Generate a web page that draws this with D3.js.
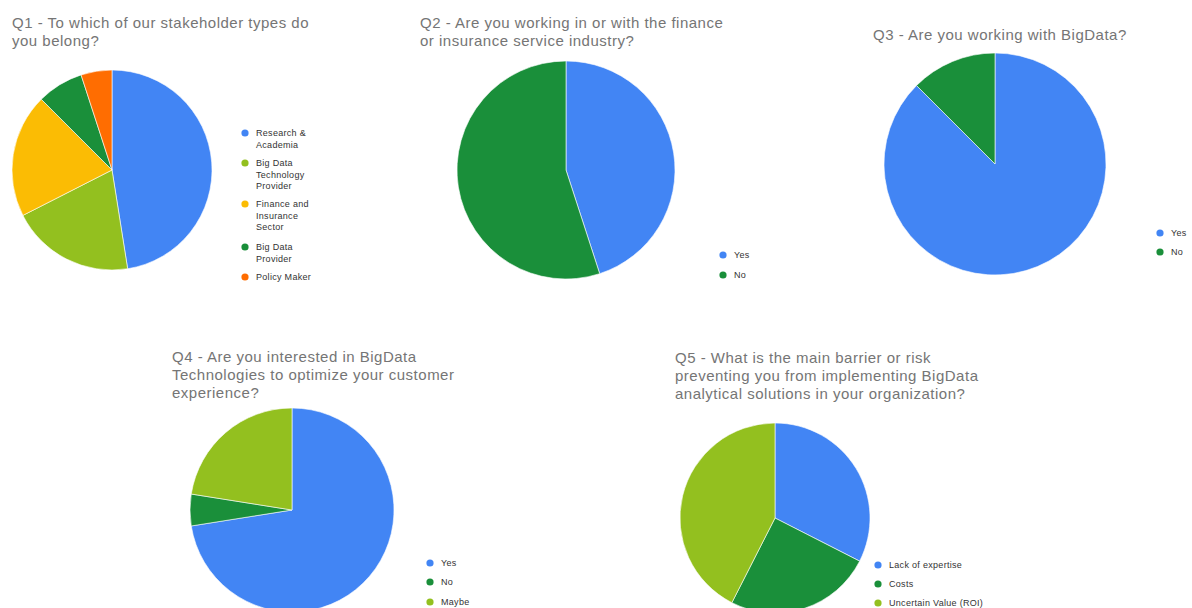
<!DOCTYPE html>
<html>
<head>
<meta charset="utf-8">
<script src="https://cdn.jsdelivr.net/npm/d3@7"></script>
<style>
  body{margin:0;background:#fff;}
  svg{display:block;font-family:Arial,"Liberation Sans",sans-serif;}
  .title{fill:#757575;font-size:15px;letter-spacing:0.5px;}
  .legend text{fill:#333;font-size:9px;letter-spacing:0.3px;}
</style>
</head>
<body>
<div class="charts"></div>
<script>
// survey answers (counts)
const q1Labels = [['Research &','Academia'],['Big Data','Technology','Provider'],['Finance and','Insurance','Sector'],['Big Data','Provider'],['Policy Maker']];
const q1Values = [19, 8, 8, 3, 2];
const q1Colors = ['#4285f4','#93c01f','#fbbc04','#1a8f3a','#ff6d01'];

const q2Labels = [['Yes'],['No']];
const q2Values = [18, 22];
const q2Colors = ['#4285f4','#1a8f3a'];

const q3Labels = [['Yes'],['No']];
const q3Values = [35, 5];
const q3Colors = ['#4285f4','#1a8f3a'];

const q4Labels = [['Yes'],['No'],['Maybe']];
const q4Values = [29, 2, 9];
const q4Colors = ['#4285f4','#1a8f3a','#93c01f'];

const q5Labels = [['Lack of expertise'],['Costs'],['Uncertain Value (ROI)']];
const q5Values = [13, 10, 17];
const q5Colors = ['#4285f4','#1a8f3a','#93c01f'];

const charts = [
  {title:['Q1 - To which of our stakeholder types do','you belong?'], tx:12, ty:28,
   labels:q1Labels, values:q1Values, colors:q1Colors, cx:112, cy:170, r:100,
   lx:245, ly:[133,163,204,247,277]},
  {title:['Q2 - Are you working in or with the finance','or insurance service industry?'], tx:420, ty:28,
   labels:q2Labels, values:q2Values, colors:q2Colors, cx:566, cy:170, r:109,
   lx:723, ly:[255,275]},
  {title:['Q3 - Are you working with BigData?'], tx:873, ty:40,
   labels:q3Labels, values:q3Values, colors:q3Colors, cx:995, cy:164, r:111,
   lx:1160, ly:[233,252]},
  {title:['Q4 - Are you interested in BigData','Technologies to optimize your customer','experience?'], tx:172, ty:362,
   labels:q4Labels, values:q4Values, colors:q4Colors, cx:292, cy:510, r:102,
   lx:430, ly:[563,582,602]},
  {title:['Q5 - What is the main barrier or risk','preventing you from implementing BigData','analytical solutions in your organization?'], tx:675, ty:363,
   labels:q5Labels, values:q5Values, colors:q5Colors, cx:775, cy:518, r:95,
   lx:878, ly:[565,584,603]}
];

const width = 1192, height = 608;
const svg = d3.select('.charts').append('svg').attr('width',width).attr('height',height);

charts.forEach(c=>{
  const g = svg.append('g');

  // title
  const t = g.append('text').attr('class','title');
  c.title.forEach((line,i)=>{
    t.append('tspan').attr('x',c.tx).attr('y',c.ty+i*18).text(line);
  });

  // pie
  const pie = d3.pie().sort(null).value(d=>d);
  const arc = d3.arc().innerRadius(0).outerRadius(c.r);
  const color = d3.scaleOrdinal().domain(d3.range(c.values.length)).range(c.colors);
  g.append('g').attr('transform',`translate(${c.cx},${c.cy})`)
    .selectAll('path').data(pie(c.values)).join('path')
    .attr('d',arc).attr('fill',(d,i)=>color(i))
    .attr('stroke','#fff').attr('stroke-width',0.6);

  // legend
  const leg = g.append('g').attr('class','legend');
  c.labels.forEach((lines,i)=>{
    leg.append('circle').attr('cx',c.lx).attr('cy',c.ly[i]).attr('r',3.6).attr('fill',color(i));
    const lt = leg.append('text');
    lines.forEach((l,j)=>{
      lt.append('tspan').attr('x',c.lx+11).attr('y',c.ly[i]+3+j*11.5).text(l);
    });
  });
});
</script>
</body>
</html>
